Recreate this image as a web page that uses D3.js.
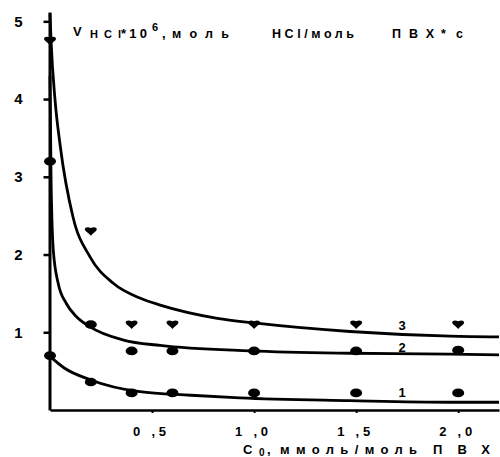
<!DOCTYPE html>
<html>
<head>
<meta charset="utf-8">
<script src="https://cdn.jsdelivr.net/npm/d3@7"></script>
<style>
  body { margin: 0; background: #fff; }
  svg { display: block; font-family: Arial, "Liberation Sans", sans-serif; font-weight: bold; }
  .axis path, .axis line { stroke: #000; }
</style>
</head>
<body>
<svg id="chart" width="500" height="457"></svg>
<script>
let svgWidth = 500;
let svgHeight = 457;

// measured points
let xPoints = [0, 0.2, 0.4, 0.6, 1.0, 1.5, 2.0];
let series3 = [4.75, 2.3, 1.1, 1.1, 1.1, 1.1, 1.1];
let series2 = [3.2, 1.1, 0.76, 0.76, 0.76, 0.76, 0.77];
let series1 = [0.7, 0.36, 0.22, 0.22, 0.22, 0.22, 0.22];

// fitted curves: [C0, V]
let curve3 = [[0, 5.1], [0.005, 4.76], [0.025, 3.98], [0.05, 3.4], [0.113, 2.48], [0.196, 1.97], [0.31, 1.63],
              [0.44, 1.44], [0.54, 1.35], [0.82, 1.18], [1.0, 1.12], [1.47, 1.01], [1.96, 0.95], [2.2, 0.94]];
let curve2 = [[0, 4.3], [0.005, 3.0], [0.016, 2.06], [0.04, 1.63], [0.08, 1.37], [0.13, 1.2], [0.196, 1.07],
              [0.36, 0.9], [0.54, 0.83], [0.98, 0.76], [1.47, 0.73], [1.96, 0.72], [2.2, 0.71]];
let curve1 = [[0, 0.69], [0.07, 0.54], [0.196, 0.39], [0.44, 0.235], [0.69, 0.19], [0.93, 0.155],
              [1.47, 0.12], [1.96, 0.10], [2.2, 0.10]];

let xTicks = [0.5, 1.0, 1.5, 2.0];
let yTicks = [1, 2, 3, 4, 5];
let curveLabels = [{name: '3', x: 1.725, y: 1.03}, {name: '2', x: 1.725, y: 0.75}, {name: '1', x: 1.725, y: 0.17}];

let xScale = d3.scaleLinear().domain([0, 2.2]).range([50, 499]);
let yScale = d3.scaleLinear().domain([0, 5.12]).range([410, 12]);

let svg = d3.select('#chart');

let line = d3.line()
    .x(d => xScale(d[0]))
    .y(d => yScale(d[1]))
    .curve(d3.curveMonotoneX);

// curves
[curve1, curve2, curve3].forEach(c => {
    svg.append('path')
        .datum(c)
        .attr('d', line)
        .attr('fill', 'none')
        .attr('stroke', '#000')
        .attr('stroke-width', 2.8);
});

// axes
let xAxis = svg.append('g')
    .attr('class', 'axis')
    .attr('transform', `translate(0,${yScale(0)})`)
    .call(d3.axisBottom(xScale).tickValues(xTicks).tickSize(3).tickSizeOuter(0).tickPadding(14)
        .tickFormat(d => d3.format('.1f')(d).replace('.', ' ,')));
xAxis.select('.domain').attr('stroke-width', 2.6);
xAxis.selectAll('.tick line').attr('stroke-width', 2);
xAxis.selectAll('.tick text')
    .attr('font-size', 13).attr('font-family', 'Arial, sans-serif').attr('font-weight', 'bold')
    .attr('fill', '#000').attr('dx', -3)
    .attr('textLength', 33).attr('lengthAdjust', 'spacing');

let yAxis = svg.append('g')
    .attr('class', 'axis')
    .attr('transform', `translate(${xScale(0) - 0.5},0)`)
    .call(d3.axisLeft(yScale).tickValues(yTicks).tickSize(6).tickSizeOuter(0).tickPadding(21)
        .tickFormat(d3.format('d')));
yAxis.select('.domain').attr('stroke-width', 3);
yAxis.selectAll('.tick line').attr('stroke-width', 2.5);
yAxis.selectAll('.tick text')
    .attr('font-size', 15).attr('font-family', 'Arial, sans-serif').attr('font-weight', 'bold')
    .attr('fill', '#000');

// markers
let dotData = [];
xPoints.forEach((x, i) => {
    dotData.push([x, series2[i]]);
    dotData.push([x, series1[i]]);
});
svg.append('g')
    .selectAll('ellipse')
    .data(dotData)
    .enter()
    .append('ellipse')
    .attr('cx', d => xScale(d[0]))
    .attr('cy', d => yScale(d[1]))
    .attr('rx', 6)
    .attr('ry', 4.3)
    .attr('fill', '#000');

svg.append('g')
    .selectAll('path')
    .data(xPoints.map((x, i) => [x, series3[i]]))
    .enter()
    .append('path')
    .attr('transform', d => `translate(${xScale(d[0])},${yScale(d[1])})`)
    .attr('d', 'M-6,-1.5 C-6,-4.5 -2.5,-4.5 0,-3.2 C2.5,-4.5 6,-4.5 6,-1.5 C5,0.5 2,2 0,4.5 C-2,2 -5,0.5 -6,-1.5 Z')
    .attr('fill', '#000');

// curve numbers
svg.append('g')
    .selectAll('text')
    .data(curveLabels)
    .enter()
    .append('text')
    .attr('x', d => xScale(d.x))
    .attr('y', d => yScale(d.y))
    .attr('text-anchor', 'middle')
    .attr('font-size', 13)
    .text(d => d.name);

// spread-out lettering: each piece gets its start and its width
function piece(parent, x, y, size, len, txt) {
    let t = parent.append('tspan').attr('x', x).attr('y', y).attr('font-size', size).text(txt);
    if (len) t.attr('textLength', len).attr('lengthAdjust', 'spacing');
    return t;
}

// y title
let yTitle = svg.append('text');
piece(yTitle, 73, 36, 13, 0, 'V');
piece(yTitle, 90, 38, 11, 31, 'HCl');
piece(yTitle, 121, 38, 13, 26, '*10');
piece(yTitle, 152, 31, 11, 0, '6');
piece(yTitle, 162, 38, 13, 0, ',');
piece(yTitle, 172, 38, 12.5, 57, 'моль');
piece(yTitle, 272, 38, 12.5, 82, 'HCl/моль');
piece(yTitle, 392, 38, 12.5, 42, 'ПВХ');
piece(yTitle, 441, 38, 12.5, 22, '*с');

// x title
let xTitle = svg.append('text');
piece(xTitle, 243, 454, 13, 0, 'С');
piece(xTitle, 259, 456, 10, 0, '0');
piece(xTitle, 267, 454, 13, 0, ',');
piece(xTitle, 280, 454, 13, 137, 'ммоль/моль');
piece(xTitle, 433, 454, 13, 57, 'ПВХ');
</script>
</body>
</html>
